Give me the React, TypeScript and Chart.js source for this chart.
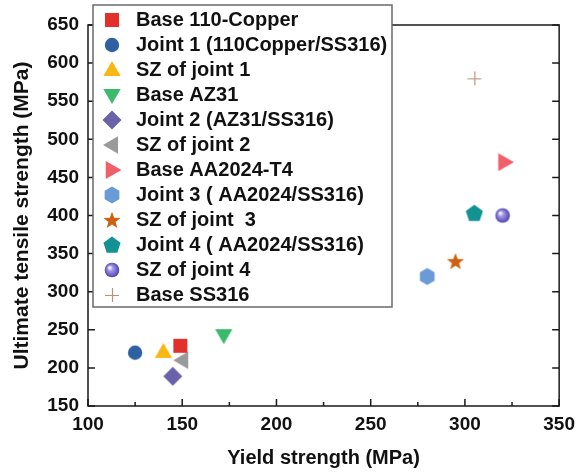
import React, { useEffect, useRef } from "react";
import { Chart, registerables } from "chart.js";

Chart.register(...registerables);

// ---- data ----
const LABELS = [
  "Base 110-Copper",
  "Joint 1 (110Copper/SS316)",
  "SZ of joint 1",
  "Base AZ31",
  "Joint 2 (AZ31/SS316)",
  "SZ of joint 2",
  "Base AA2024-T4",
  "Joint 3 ( AA2024/SS316)",
  "SZ of joint  3",
  "Joint 4 ( AA2024/SS316)",
  "SZ of joint 4",
  "Base SS316",
];
const YIELD = [149, 125, 140, 172, 145, 150, 321, 280, 295, 305, 320, 305];
const UTS = [229, 220, 221, 243, 189, 210, 470, 320, 340, 403, 400, 580];
const MARKERS = [
  "square", "circle", "triUp", "triDown", "diamond", "triLeft",
  "triRight", "hexagon", "star", "pentagon", "sphere", "plus",
];
const COLORS = [
  "#e2302a", "#2f60a2", "#f8b714", "#3cba6c", "#6b61a8", "#9a9a9a",
  "#f0606a", "#6b9bd6", "#cf6212", "#129292", "#6a5cc8", "#b9907a",
];
const X_TICKS = [100, 150, 200, 250, 300, 350];
const Y_TICKS = [150, 200, 250, 300, 350, 400, 450, 500, 550, 600, 650];

const FONT_FAMILY = '"Liberation Sans", Arial, Helvetica, sans-serif';

function polygon(g: CanvasRenderingContext2D, cx: number, cy: number, n: number, r: number, startDeg: number) {
  for (let i = 0; i < n; i++) {
    const a = (startDeg + (360 / n) * i) * Math.PI / 180;
    const px = cx + r * Math.cos(a);
    const py = cy + r * Math.sin(a);
    if (i === 0) g.moveTo(px, py); else g.lineTo(px, py);
  }
  g.closePath();
}

function makeMarker(kind: string, color: string): HTMLCanvasElement {
  const c = document.createElement("canvas");
  c.width = 24;
  c.height = 24;
  const g = c.getContext("2d")!;
  const cx = 12, cy = 12;
  g.fillStyle = color;
  g.beginPath();
  switch (kind) {
    case "square":
      g.rect(cx - 7, cy - 7, 14, 14);
      break;
    case "circle":
      g.arc(cx, cy, 7.2, 0, Math.PI * 2);
      break;
    case "triUp":
      polygon(g, cx, cy + 1, 3, 10, -90);
      break;
    case "triDown":
      polygon(g, cx, cy - 1, 3, 10, 90);
      break;
    case "triLeft":
      polygon(g, cx + 1, cy, 3, 10, 180);
      break;
    case "triRight":
      polygon(g, cx - 1, cy, 3, 10.5, 0);
      break;
    case "diamond":
      polygon(g, cx, cy, 4, 9.5, -90);
      break;
    case "hexagon":
      polygon(g, cx, cy, 6, 8.5, -90);
      break;
    case "pentagon":
      polygon(g, cx, cy + 0.5, 5, 9, -90);
      break;
    case "star": {
      for (let i = 0; i < 10; i++) {
        const r = i % 2 === 0 ? 9 : 3.8;
        const a = (-90 + 36 * i) * Math.PI / 180;
        const px = cx + r * Math.cos(a);
        const py = cy + 0.8 + r * Math.sin(a);
        if (i === 0) g.moveTo(px, py); else g.lineTo(px, py);
      }
      g.closePath();
      break;
    }
    case "sphere": {
      const grad = g.createRadialGradient(cx - 2.5, cy - 2.5, 0.5, cx, cy, 7.5);
      grad.addColorStop(0, "#ffffff");
      grad.addColorStop(0.3, "#a59be8");
      grad.addColorStop(1, "#4b3db2");
      g.fillStyle = grad;
      g.arc(cx, cy, 7.3, 0, Math.PI * 2);
      break;
    }
    case "plus":
      break;
  }
  if (kind === "plus") {
    g.strokeStyle = color;
    g.lineWidth = 1.2;
    g.beginPath();
    g.moveTo(cx - 7, cy + 0.5);
    g.lineTo(cx + 7, cy + 0.5);
    g.moveTo(cx + 0.5, cy - 7);
    g.lineTo(cx + 0.5, cy + 7);
    g.stroke();
  } else {
    g.fill();
  }
  return c;
}

const framePlugin = {
  id: "frameAndLegendBox",
  beforeDraw(chart: any) {
    const { ctx, chartArea } = chart;
    const xs = chart.scales.x;
    const ys = chart.scales.y;
    const { left, right, top, bottom } = chartArea;
    ctx.save();
    ctx.strokeStyle = "#1a1a1a";
    ctx.lineWidth = 1.5;
    ctx.beginPath();
    ctx.rect(left, top, right - left, bottom - top);
    ctx.stroke();
    ctx.beginPath();
    X_TICKS.forEach((v) => {
      const px = xs.getPixelForValue(v);
      ctx.moveTo(px, bottom);
      ctx.lineTo(px, bottom - 7);
    });
    for (let i = 0; i < X_TICKS.length - 1; i++) {
      const px = xs.getPixelForValue((X_TICKS[i] + X_TICKS[i + 1]) / 2);
      ctx.moveTo(px, bottom);
      ctx.lineTo(px, bottom - 4);
    }
    Y_TICKS.forEach((v) => {
      const py = ys.getPixelForValue(v);
      ctx.moveTo(left, py);
      ctx.lineTo(left + 7, py);
      ctx.moveTo(right, py);
      ctx.lineTo(right - 7, py);
    });
    ctx.stroke();

    // legend box
    const lg = chart.legend;
    lg.left = 93;
    lg.top = 5;
    ctx.fillStyle = "#ffffff";
    ctx.strokeStyle = "#6a6a6a";
    ctx.lineWidth = 1.5;
    ctx.beginPath();
    ctx.rect(93, 5, 299, 302);
    ctx.fill();
    ctx.stroke();
    ctx.restore();
  },
};

export default function App() {
  const ref = useRef<HTMLCanvasElement | null>(null);
  useEffect(() => {
    if (!ref.current) return;
    const datasets = LABELS.map((label, i) => ({
      label,
      data: [{ x: YIELD[i], y: UTS[i] }],
      pointStyle: makeMarker(MARKERS[i], COLORS[i]),
      backgroundColor: COLORS[i],
      borderColor: COLORS[i],
      pointRadius: 8,
    }));
    const tickFont = { family: FONT_FAMILY, size: 19, weight: "bold" as const };
    const titleFont = { family: FONT_FAMILY, size: 20, weight: "bold" as const };
    const yTitleFont = { family: FONT_FAMILY, size: 21, weight: "bold" as const };
    const chart = new Chart(ref.current, {
      type: "scatter",
      data: { datasets },
      plugins: [framePlugin],
      options: {
        responsive: false,
        animation: false,
        events: [],
        layout: { padding: { top: 25, right: 21, left: 0, bottom: 0 } },
        scales: {
          x: {
            type: "linear",
            min: 100,
            max: 350,
            afterBuildTicks: (s: any) => { s.ticks = X_TICKS.map((v) => ({ value: v })); },
            afterFit: (s: any) => { s.height = 67; },
            grid: { display: false, drawTicks: false },
            border: { display: false },
            ticks: { font: tickFont, color: "#111", padding: 7, maxRotation: 0 },
            title: {
              display: true,
              text: "Yield strength (MPa)",
              font: titleFont,
              color: "#111",
              padding: { top: 0, bottom: 3 },
            },
          },
          y: {
            type: "linear",
            min: 150,
            max: 650,
            afterBuildTicks: (s: any) => { s.ticks = Y_TICKS.map((v) => ({ value: v })); },
            afterFit: (s: any) => { s.width = 88; },
            grid: { display: false, drawTicks: false },
            border: { display: false },
            ticks: { font: tickFont, color: "#111", padding: 9 },
            title: {
              display: true,
              text: "Ultimate tensile strength (MPa)",
              font: yTitleFont,
              color: "#111",
              padding: { top: 10, bottom: 0 },
            },
          },
        },
        plugins: {
          tooltip: { enabled: false },
          legend: {
            position: "chartArea" as any,
            align: "start",
            labels: {
              usePointStyle: true,
              pointStyleWidth: 28,
              boxHeight: 14,
              padding: 5,
              color: "#111",
              font: { family: FONT_FAMILY, size: 20, weight: "bold" },
            },
          },
        },
      },
    });
    return () => chart.destroy();
  }, []);
  return (
    <div style={{ position: "fixed", left: 0, top: 0, width: 582, height: 473, background: "#fff" }}>
      <canvas ref={ref} width={582} height={473} style={{ display: "block", width: 582, height: 473 }} />
    </div>
  );
}
